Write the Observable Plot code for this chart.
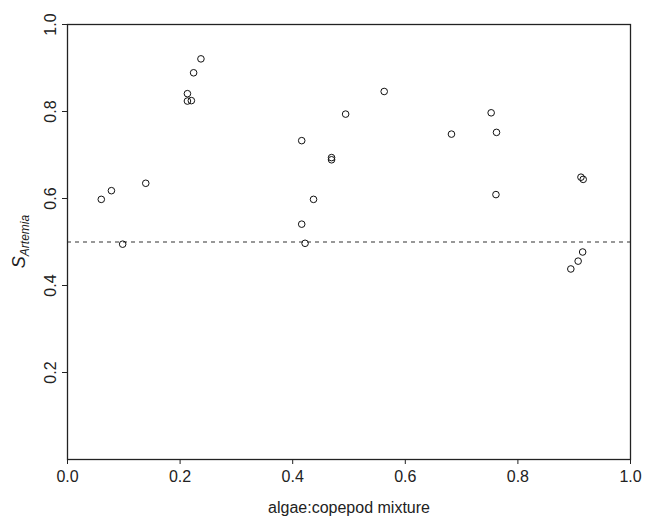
<!DOCTYPE html>
<html>
<head>
<meta charset="utf-8">
<script src="https://cdn.jsdelivr.net/npm/d3@7"></script>
<script src="https://cdn.jsdelivr.net/npm/@observablehq/plot@0.6"></script>
<style>
  html, body { margin: 0; padding: 0; background: white; }
</style>
</head>
<body>
<div id="chart"></div>
<script>
// Algae:copepod mixture proportion (x) and S_Artemia selectivity (y)
const mixture = [0.060, 0.078, 0.098, 0.139, 0.213, 0.213, 0.220, 0.224, 0.237,
                 0.416, 0.469, 0.469, 0.437, 0.416, 0.422, 0.5625, 0.494,
                 0.682, 0.7525, 0.762, 0.761, 0.912, 0.916, 0.915, 0.907, 0.894];
const sArtemia = [0.598, 0.618, 0.495, 0.635, 0.841, 0.824, 0.825, 0.889, 0.921,
                  0.733, 0.694, 0.689, 0.598, 0.541, 0.497, 0.846, 0.794,
                  0.748, 0.797, 0.752, 0.609, 0.649, 0.644, 0.477, 0.456, 0.438];
const referenceLine = [0.5];
const xTicks = [0.0, 0.2, 0.4, 0.6, 0.8, 1.0];
const yTicks = [0.2, 0.4, 0.6, 0.8, 1.0];
const xLabel = "algae:copepod mixture";
const yLabelMain = "S";
const yLabelSub = "Artemia";

const data = mixture.map((x, i) => ({x, y: sArtemia[i]}));
const fmt = d3.format(".1f");

const svg = Plot.plot({
  width: 646,
  height: 518,
  marginLeft: 67,
  marginRight: 16,
  marginTop: 24,
  marginBottom: 59,
  style: {fontFamily: "'Liberation Sans', Arial, Helvetica, sans-serif", fontSize: "16px", background: "white", color: "#222"},
  x: {domain: [0, 1]},
  y: {domain: [0, 1]},
  marks: [
    Plot.ruleY(referenceLine, {stroke: "#333", strokeWidth: 1.2, strokeDasharray: "4,4"}),
    Plot.dot(data, {x: "x", y: "y", r: 3.3, stroke: "#111", strokeWidth: 1, fill: "none"}),
    Plot.frame({stroke: "#222", strokeWidth: 1.3}),
    Plot.axisX({ticks: xTicks, tickFormat: fmt, tickSize: 5, tickPadding: 6, label: xLabel, labelAnchor: "center", labelArrow: "none", labelOffset: 53}),
    Plot.axisY({ticks: yTicks, tickFormat: fmt, tickSize: 5, tickPadding: 7, tickRotate: -90, label: null})
  ]
});

const lab = d3.select(svg).append("text")
  .attr("transform", "translate(25, 241.5) rotate(-90)")
  .attr("text-anchor", "middle")
  .attr("font-style", "italic")
  .attr("font-size", 18)
  .attr("fill", "#222");
lab.append("tspan").text(yLabelMain);
lab.append("tspan").attr("font-size", 12).attr("dy", "0.35em").text(yLabelSub);

document.getElementById("chart").appendChild(svg);
</script>
</body>
</html>
